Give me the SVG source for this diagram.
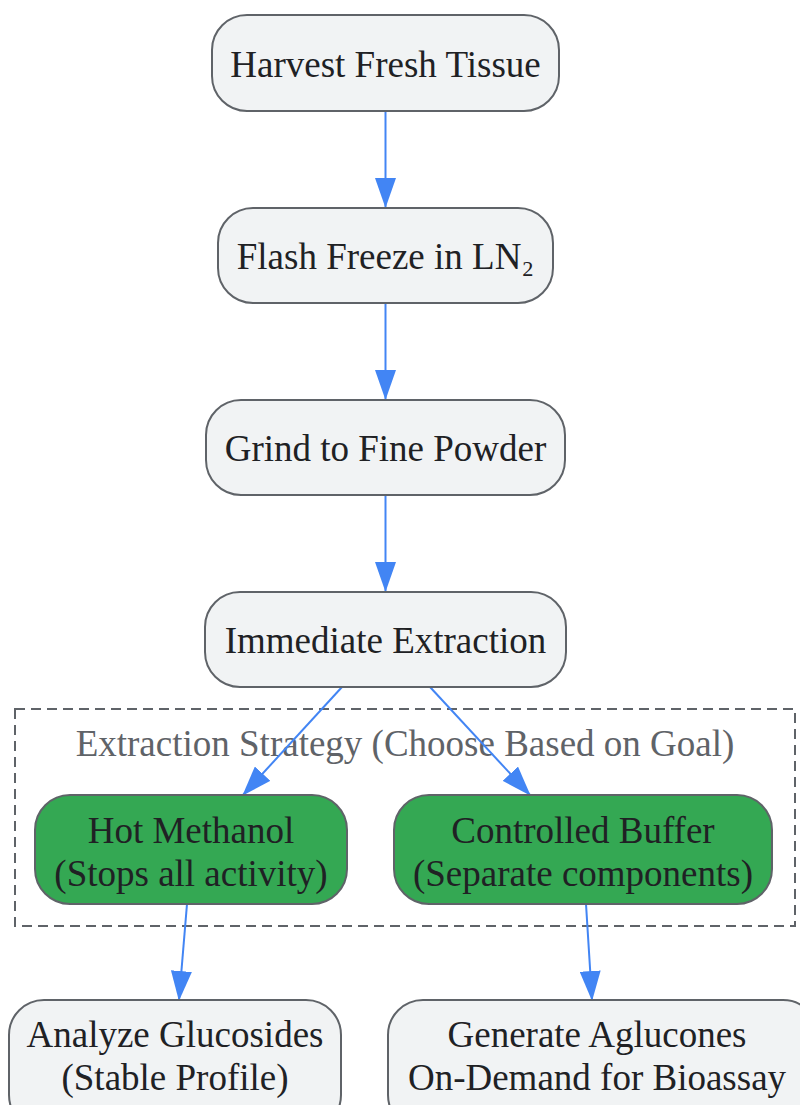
<svg xmlns="http://www.w3.org/2000/svg" width="800" height="1105" viewBox="0 0 800 1105">
<style>
.n rect{fill:#f1f3f4;stroke:#5f6368;stroke-width:2}
.g rect{fill:#34a853;stroke:#5f6368;stroke-width:2}
.e line{stroke:#4285f4;stroke-width:2}
.cl{fill:none;stroke:#5f6368;stroke-width:2;stroke-dasharray:10,6}
</style>
<defs>
<marker id="arr" viewBox="0 0 30 21" refX="29" refY="10.5" markerWidth="30" markerHeight="21" markerUnits="userSpaceOnUse" orient="auto">
<path d="M0,0 L30,10.5 L0,21 z" fill="#4285f4"/>
</marker>
</defs>
<g id="cluster">
<rect class="cl" x="15" y="709" width="780" height="217"/>
<text x="405" y="756" font-family="Liberation Serif, serif" font-size="37" fill="#5f6368" text-anchor="middle">Extraction Strategy (Choose Based on Goal)</text>
</g>
<g id="edges" class="e">
<line x1="385.5" y1="111" x2="385.5" y2="207" marker-end="url(#arr)"/>
<line x1="385.5" y1="303" x2="385.5" y2="399" marker-end="url(#arr)"/>
<line x1="385.5" y1="495" x2="385.5" y2="591" marker-end="url(#arr)"/>
<line x1="342" y1="687" x2="243" y2="795" marker-end="url(#arr)"/>
<line x1="430" y1="687" x2="530" y2="795" marker-end="url(#arr)"/>
<line x1="187" y1="904" x2="179" y2="1000" marker-end="url(#arr)"/>
<line x1="586" y1="904" x2="592" y2="1000" marker-end="url(#arr)"/>
</g>
<g font-family="Liberation Serif, serif" font-size="37" fill="#202124" text-anchor="middle">
<g id="n1" class="n"><rect x="212" y="15" width="347" height="96" rx="35"/><text x="385.5" y="77">Harvest Fresh Tissue</text></g>
<g id="n2" class="n"><rect x="218" y="208" width="335" height="95" rx="35"/><text x="385.5" y="269">Flash Freeze in LN₂</text></g>
<g id="n3" class="n"><rect x="206" y="400" width="359" height="95" rx="35"/><text x="385.5" y="461">Grind to Fine Powder</text></g>
<g id="n4" class="n"><rect x="205" y="592" width="361" height="95" rx="35"/><text x="385.5" y="653">Immediate Extraction</text></g>
<g id="hot" class="g"><rect x="35" y="795" width="312" height="109" rx="35"/><text x="191" y="843">Hot Methanol</text><text x="191" y="886">(Stops all activity)</text></g>
<g id="buf" class="g"><rect x="394" y="795" width="378" height="109" rx="35"/><text x="583" y="843">Controlled Buffer</text><text x="583" y="886">(Separate components)</text></g>
<g id="ana" class="n"><rect x="9" y="1000" width="332" height="130" rx="35"/><text x="175" y="1047">Analyze Glucosides</text><text x="175" y="1090">(Stable Profile)</text></g>
<g id="gen" class="n"><rect x="388" y="1000" width="430" height="130" rx="35"/><text x="597" y="1047">Generate Aglucones</text><text x="597" y="1090">On-Demand for Bioassay</text></g>
</g>
</svg>
